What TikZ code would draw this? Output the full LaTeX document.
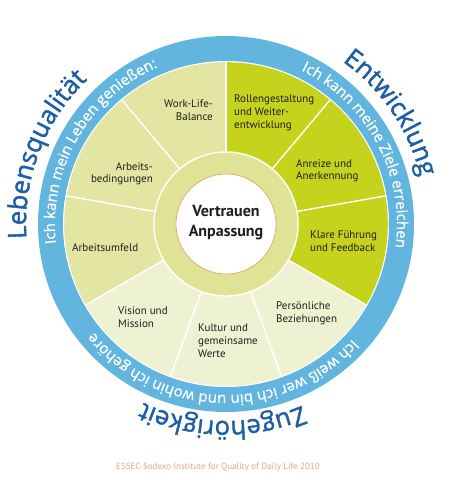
\documentclass[tikz,border=0pt]{standalone}
\usepackage{fontspec}
\setmainfont{PT Sans}
\newfontfamily\arcfont[FakeBold=1.6]{Open Sans}
\newfontfamily\ringfont[FakeBold=0.8]{Open Sans}
\usetikzlibrary{decorations.text}
\definecolor{ringblue}{HTML}{62B5DE}
\definecolor{bigblue}{HTML}{1D5EA4}
\definecolor{segA}{HTML}{E3E6A2}
\definecolor{segB}{HTML}{C6D31C}
\definecolor{segC}{HTML}{EEF1D2}
\definecolor{innerring}{HTML}{E0E396}
\definecolor{footcol}{HTML}{E9A47C}
\definecolor{centerrim}{HTML}{E49A5C}
\definecolor{labeltext}{HTML}{1E1E1E}
\tikzset{
  seglabel/.style={font=\fontsize{11}{12.9}\selectfont, inner sep=0pt, text=labeltext},
  centerlabel/.style={font=\bfseries\fontsize{16}{20}\selectfont, inner sep=0pt, align=center, text=labeltext},
  separator/.style={white, line width=1.4pt},
  bigarc/.style={decorate, decoration={text along path, text align=center,
      text={|\arcfont\fontsize{25.5}{25.5}\selectfont\color{bigblue}|#1}}},
  ringarc/.style={decorate, decoration={text along path, text align=center,
      text={|\ringfont\fontsize{15}{15}\selectfont\color{white}|#1}}}
}
\begin{document}
\begin{tikzpicture}[x=1pt,y=1pt]
\path[use as bounding box, fill=white] (-226,-256) rectangle (238,224);
% outer blue ring
\fill[ringblue] (0,0) circle[radius=188pt];
\fill[white] (0,0) circle[radius=163pt];
% segments
\foreach \a/\b/\c in {90/130/segA,130/170/segA,170/210/segA,210/250/segC,250/290/segC,290/330/segC,330/370/segB,10/50/segB,50/90/segB}{
  \fill[\c] (0,0) -- (\a:161.8pt) arc[start angle=\a, end angle=\b, radius=161.8pt] -- cycle;
}
\foreach \a in {10,50,90,130,170,210,250,290,330}{
  \draw[separator] (\a:72pt) -- (\a:162pt);
}
% inner ring and centre
\fill[innerring] (0,0) circle[radius=72pt];
\draw[separator] (0,0) circle[radius=72pt];
\filldraw[fill=white, draw=centerrim, line width=0.6pt] (0,0) circle[radius=50pt];
\node[centerlabel] (centre) at (0,1) {Vertrauen\\Anpassung};
% segment labels
\node[seglabel, anchor=north east, align=right] (wlb) at (-13,124) {Work-Life-\\Balance};
\node[seglabel, anchor=north east, align=right] (abd) at (-73,62) {Arbeits-\\bedingungen};
\node[seglabel, anchor=north west, align=left] (auf) at (-154,-19) {Arbeitsumfeld};
\node[seglabel, anchor=north west, align=left] (vm) at (-108,-83) {Vision und\\Mission};
\node[seglabel, anchor=north west, align=left] (kgw) at (-28,-100) {Kultur und\\gemeinsame\\Werte};
\node[seglabel, anchor=north west, align=left] (pb) at (50,-78) {Persönliche\\Beziehungen};
\node[seglabel, anchor=north west, align=left] (kff) at (84,-7) {Klare Führung\\und Feedback};
\node[seglabel, anchor=north west, align=left] (aa) at (70,65) {Anreize und\\Anerkennung};
\node[seglabel, anchor=north west, align=left] (rw) at (8,129) {Rollengestaltung\\und Weiter-\\entwicklung};
% ring texts
\path[ringarc={Ich kann mein Leben genießen:}] (210:171pt) arc[start angle=210, end angle=90, radius=171pt];
\path[ringarc={Ich kann meine Ziele erreichen}] (88:171pt) arc[start angle=88, end angle=-32, radius=171pt];
\path[ringarc={Ich weiß wer ich bin und wohin ich gehöre}] (-31.5:171pt) arc[start angle=-31.5, end angle=-151.5, radius=171pt];
% big curved titles
\path[bigarc=Lebensqualität] (219:200pt) arc[start angle=219, end angle=99, radius=200pt];
\path[bigarc=Entwicklung] (94:200pt) arc[start angle=94, end angle=-26, radius=200pt];
\path[bigarc=Zugehörigkeit] (-31:197pt) arc[start angle=-31, end angle=-151, radius=197pt];
% footer
\node[font=\fontsize{9}{10}\selectfont, text=footcol, inner sep=0pt] (foot) at (-8,-243) {ESSEC-Sodexo Institute for Quality of Daily Life 2010};
\end{tikzpicture}
\end{document}
